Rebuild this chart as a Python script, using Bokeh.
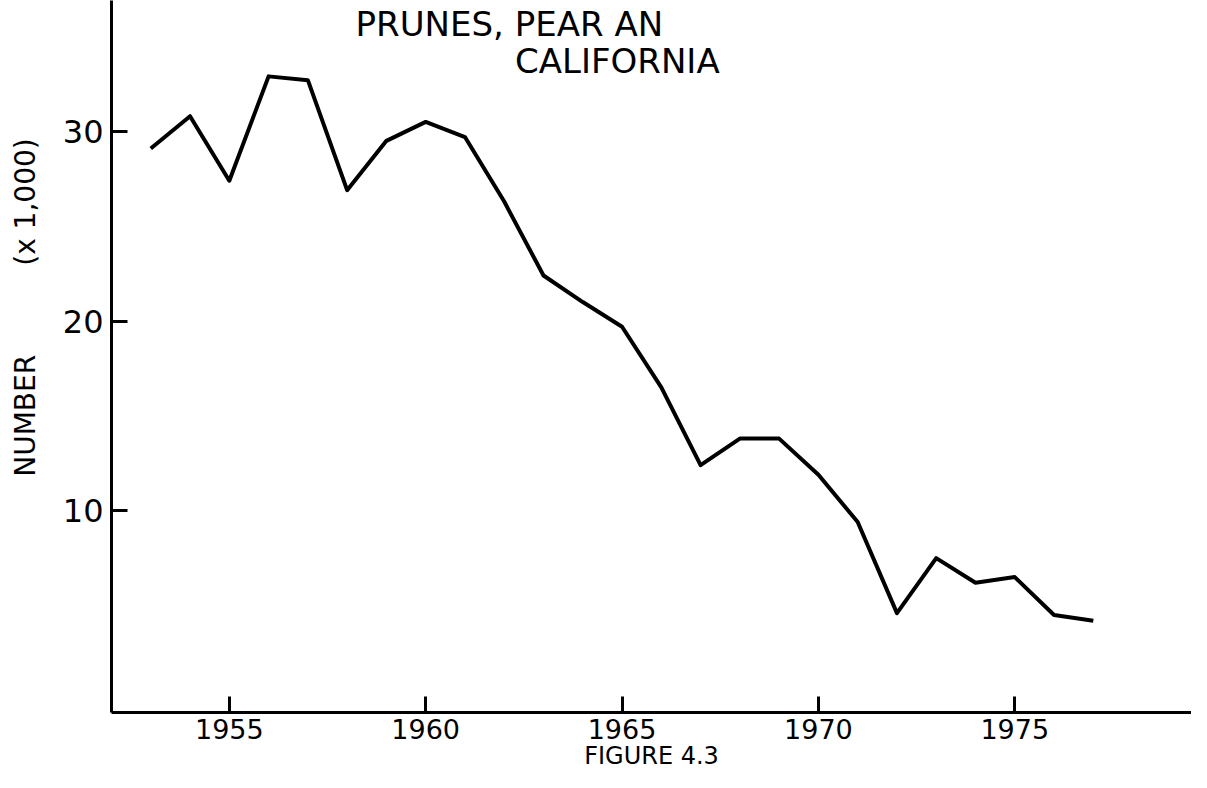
from bokeh.plotting import figure
from bokeh.models import Range1d, FixedTicker, Label
from bokeh.embed import file_html
from bokeh.resources import INLINE

# ---- data ----
years = list(range(1953, 1978))
numbers = [29.1, 30.8, 27.4, 32.9, 32.7, 26.9, 29.5, 30.5, 29.7, 26.3,
           22.4, 21.0, 19.7, 16.5, 12.4, 13.8, 13.8, 11.9, 9.4, 4.6,
           7.5, 6.2, 6.5, 4.5, 4.2]
x_ticks = [1955, 1960, 1965, 1970, 1975]
y_ticks = [10, 20, 30]

title_line1 = "PRUNES, PEAR AN"
title_line2 = "CALIFORNIA"
y_label = "\u00a0" * 11 + "NUMBER" + "\u00a0" * 10 + "(x 1,000)"
caption = "FIGURE 4.3"

FONT = "DejaVu Sans"

p = figure(width=1191, height=772,
           x_range=Range1d(1952.0, 1979.5), y_range=Range1d(-0.64, 36.9),
           output_backend="svg", toolbar_location=None,
           min_border_left=111, min_border_right=0,
           min_border_top=0, min_border_bottom=60)

p.xgrid.visible = False
p.ygrid.visible = False
p.outline_line_color = None
p.background_fill_color = "white"
p.border_fill_color = "white"

for ax in (p.xaxis, p.yaxis):
    ax.axis_line_width = 3
    ax.axis_line_color = "black"
    ax.major_tick_line_width = 3
    ax.major_tick_line_color = "black"
    ax.major_tick_in = 16
    ax.major_tick_out = 0
    ax.minor_tick_in = 0
    ax.minor_tick_out = 0
    ax.major_label_text_font = FONT
    ax.major_label_text_color = "black"
    ax.axis_label_text_font = FONT
    ax.axis_label_text_font_style = "normal"
    ax.axis_label_text_color = "black"

p.xaxis.ticker = FixedTicker(ticks=x_ticks)
p.yaxis.ticker = FixedTicker(ticks=y_ticks)
p.xaxis.major_label_text_font_size = "27px"
p.yaxis.major_label_text_font_size = "32px"
p.xaxis.major_label_standoff = 6
p.yaxis.major_label_standoff = 8

p.xaxis.axis_label = caption
p.xaxis.axis_label_text_font_size = "24px"
p.xaxis.axis_label_standoff = 0

p.yaxis.axis_label = y_label
p.yaxis.axis_label_text_font_size = "28px"
p.yaxis.axis_label_standoff = 18

p.line(years, numbers, line_width=4, line_color="black", line_join="round")

def lab(x, y, text, size):
    p.add_layout(Label(x=x, y=y, text=text, text_font=FONT,
                       text_font_size=size, text_color="black",
                       text_align="center", text_baseline="top"))

lab(1962.13, 36.73, title_line1, "34px")
lab(1964.88, 34.75, title_line2, "34px")

open("out.html", "w").write(file_html(p, INLINE))
